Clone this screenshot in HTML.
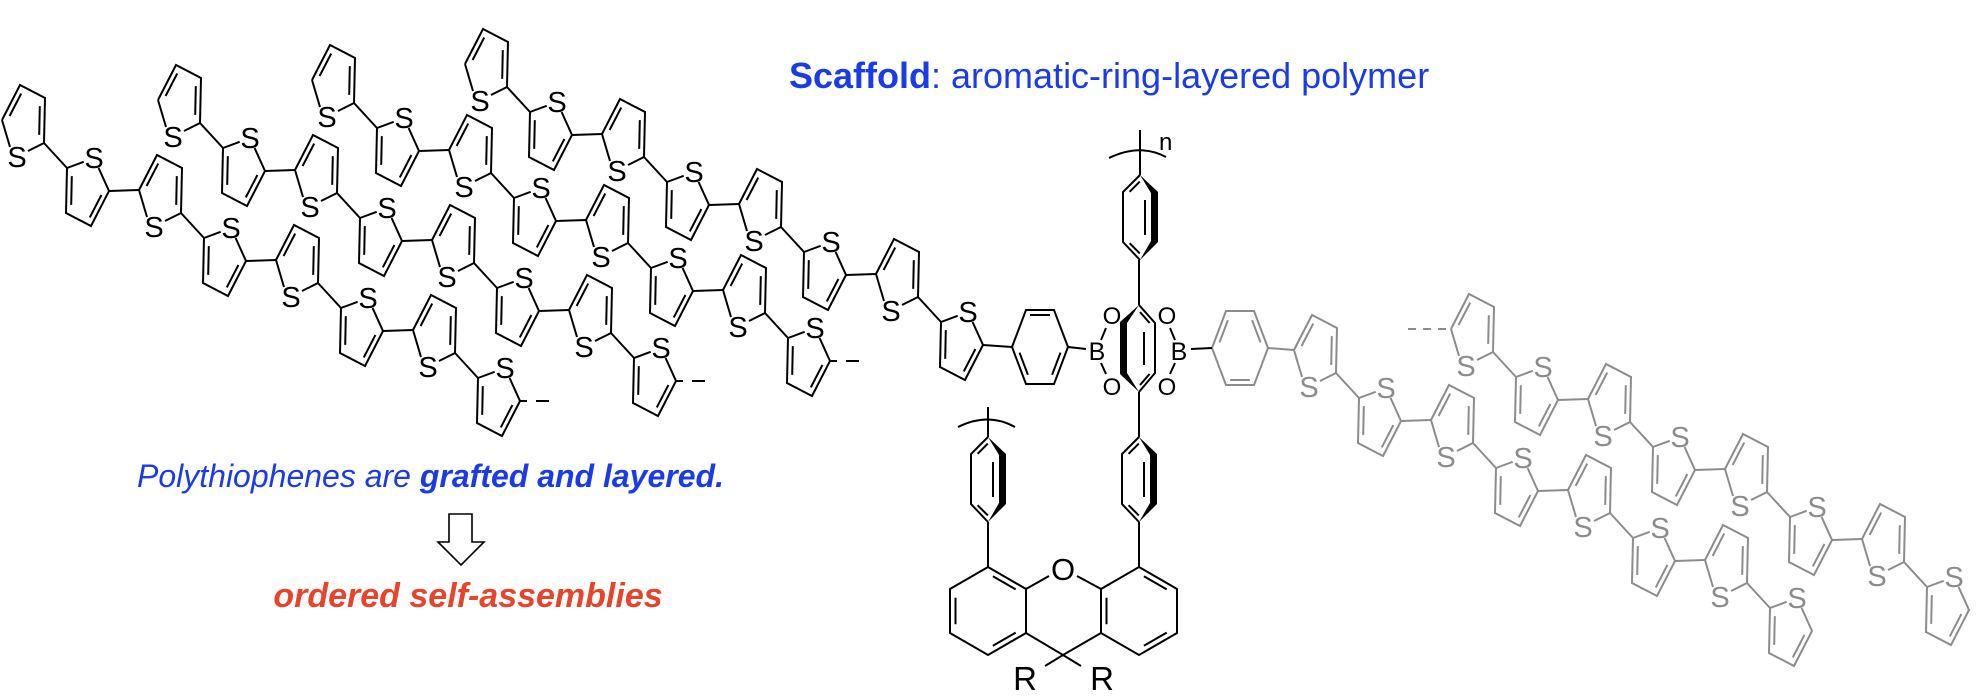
<!DOCTYPE html>
<html><head><meta charset="utf-8"><style>
html,body{margin:0;padding:0;background:#fff;}
svg{display:block;}
text{font-family:"Liberation Sans",Arial,sans-serif;}
</style></head><body>
<svg xmlns="http://www.w3.org/2000/svg" xmlns:xlink="http://www.w3.org/1999/xlink" width="1976" height="698" viewBox="0 0 1976 698">
<defs>
<g id="U" fill="none"><path d="M0,0 L18,-35 L43,-22 L42,23 L26,31 M0,0 L8,27 M7.6,-4 L19.2,-26.4 M37.8,-13.9 L37.2,14.9"/></g>
<g id="D" fill="none"><path d="M0,0 L-1,45 L24,58 L42,23 L31.6,0 M0,0 L16.7,-6.2 M34.4,27 L22.8,49.4 M4.2,36.9 L4.8,8.1"/></g>
<g id="chain" fill="none">
 <use href="#U" xlink:href="#U"/>
 <path d="M42,23 L65,48 M107,71 L137,70 M179,93 L202,118 M244,141 L274,140 M316,163 L339,188 M381,211 L411,210 M453,233 L476,258"/>
 <use href="#D" xlink:href="#D" x="65" y="48"/>
 <use href="#U" xlink:href="#U" x="137" y="70"/>
 <use href="#D" xlink:href="#D" x="202" y="118"/>
 <use href="#U" xlink:href="#U" x="274" y="140"/>
 <use href="#D" xlink:href="#D" x="339" y="188"/>
 <use href="#U" xlink:href="#U" x="411" y="210"/>
 <use href="#D" xlink:href="#D" x="476" y="258"/>
</g>
<g id="W"><path fill="#000" stroke="none" d="M0,0 L18,17 L18,67 L0,85 L11,66 L11,18 Z"/><path fill="none" d="M0,0 L-17,17 L-17,67 L0,85 M-0.2,6.6 L-10.4,16.8 M-0.2,78.4 L-10.4,68.2 M5,25 L5,60"/></g>
</defs>

<!-- black chains -->
<g stroke="#000" stroke-width="2" fill="none">
<use href="#chain" xlink:href="#chain" x="2" y="120"/>
<use href="#chain" xlink:href="#chain" x="158" y="100"/>
<use href="#chain" xlink:href="#chain" x="312" y="80"/>
<use href="#chain" xlink:href="#chain" x="465" y="64"/>
<path d="M520,401 L527,401 M536,401 L549,401 M676,381 L683,381 M692,381 L705,381 M830,361 L837,361 M846,361 L859,361"/>
<path d="M983,345 L1012,347"/>
</g>
<!-- gray chains -->
<g stroke="#8c8c8c" stroke-width="2" fill="none">
<use href="#chain" xlink:href="#chain" x="1294" y="350"/>
<use href="#chain" xlink:href="#chain" x="1451" y="329"/>
<path d="M1408,329 L1451,329" stroke-dasharray="8,7"/>
<path d="M1268,348 L1294,350"/>
<path d="M1212,348 L1226,311 L1254,311 L1268,348 L1254,385 L1226,385 Z M1219.5,342.4 L1227.9,320.2 M1260.5,342.4 L1252.1,320.2 M1230,380 L1250,380"/>
</g>

<!-- S labels black -->
<g font-size="29" text-anchor="middle" fill="#000">
<text x="17" y="167">S</text><text x="94" y="168">S</text><text x="154" y="237">S</text><text x="231" y="238">S</text><text x="291" y="307">S</text><text x="368" y="308">S</text><text x="428" y="377">S</text><text x="505" y="378">S</text>
<text x="173" y="147">S</text><text x="250" y="148">S</text><text x="310" y="217">S</text><text x="387" y="218">S</text><text x="447" y="287">S</text><text x="524" y="288">S</text><text x="584" y="357">S</text><text x="661" y="358">S</text>
<text x="327" y="127">S</text><text x="404" y="128">S</text><text x="464" y="197">S</text><text x="541" y="198">S</text><text x="601" y="267">S</text><text x="678" y="268">S</text><text x="738" y="337">S</text><text x="815" y="338">S</text>
<text x="480" y="111">S</text><text x="557" y="112">S</text><text x="617" y="181">S</text><text x="694" y="182">S</text><text x="754" y="251">S</text><text x="831" y="252">S</text><text x="891" y="321">S</text><text x="968" y="322">S</text>
</g>
<!-- S labels gray -->
<g font-size="29" text-anchor="middle" fill="#8c8c8c">
<text x="1309" y="397">S</text><text x="1386" y="398">S</text><text x="1446" y="467">S</text><text x="1523" y="468">S</text><text x="1583" y="537">S</text><text x="1660" y="538">S</text><text x="1720" y="607">S</text><text x="1797" y="608">S</text>
<text x="1466" y="376">S</text><text x="1543" y="377">S</text><text x="1603" y="446">S</text><text x="1680" y="447">S</text><text x="1740" y="516">S</text><text x="1817" y="517">S</text><text x="1877" y="586">S</text><text x="1954" y="587">S</text>
</g>

<!-- central scaffold -->
<g stroke="#000" stroke-width="2" fill="none">
<path d="M1012,347 L1026,310 L1054,310 L1068,347 L1054,384 L1026,384 Z M1030,315 L1050,315 M1060.5,352.6 L1052.1,374.8 M1019.5,352.6 L1027.9,374.8"/>
<path d="M1068,347 L1086,349"/>
<path d="M1101,340 L1106,328 M1101,363 L1106,374 M1175,340 L1170,328 M1175,363 L1170,374"/>
<path d="M1191,349 L1212,348"/>
<path d="M1139,305 L1155,323 L1155,373 L1139,392 M1144,332 L1144,365 M1140,312 L1149.6,323 M1140,385 L1149.6,374"/>
<path d="M1139,260 L1139,305 M1139,392 L1139,437 M1140,130 L1140,175 M988,407 L988,437 M988,522 L988,567 M1139,522 L1139,567"/>
<path d="M1109,158 Q1140,143 1166,157 M958,427 Q988,412 1015,427"/>
<use href="#W" xlink:href="#W" x="1140" y="175"/>
<use href="#W" xlink:href="#W" x="1139" y="437"/>
<use href="#W" xlink:href="#W" x="988" y="437"/>
<path d="M988,567 L1026,589 L1026,633 L988,655 L950,633 L950,589 Z M1139,567 L1177,589 L1177,633 L1139,655 L1101,633 L1101,589 Z M1026,589 L1049,576 M1077,576 L1101,589 M1026,633 L1063,655 L1101,633 M1063,655 L1045,666 M1063,655 L1081,666 M992.9,576.2 L1015.7,589.4 M992.9,645.8 L1015.7,632.6 M955.5,597.8 L955.5,624.2 M1143.9,576.2 L1166.7,589.4 M1143.9,645.8 L1166.7,632.6 M1106.5,597.8 L1106.5,624.2"/>
</g>
<path fill="#000" d="M1139,305 L1120,322 L1120,374 L1139,392 L1127,373 L1127,323 Z"/>

<g fill="#000" text-anchor="middle">
<text x="1097" y="360" font-size="25">B</text>
<text x="1179" y="360" font-size="25">B</text>
<text x="1112" y="324" font-size="24">O</text>
<text x="1112" y="395" font-size="24">O</text>
<text x="1167" y="324" font-size="24">O</text>
<text x="1167" y="395" font-size="24">O</text>
<text x="1063" y="580" font-size="31">O</text>
<text x="1025" y="690" font-size="33">R</text>
<text x="1102" y="690" font-size="33">R</text>
</g>
<text x="1159" y="150" font-size="24" fill="#000">n</text>

<!-- captions -->
<text x="789" y="88" font-size="36" fill="#1a3bea"><tspan font-weight="bold">Scaffold</tspan>: aromatic-ring-layered polymer</text>
<text x="137" y="487" font-size="32" font-style="italic" fill="#1a3bea">Polythiophenes are <tspan font-weight="bold">grafted and layered.</tspan></text>
<path d="M449,514 L472,514 L472,542 L484,542 L461,565 L438,542 L449,542 Z" fill="#fff" stroke="#000" stroke-width="1.6"/>
<text x="468" y="607" font-size="34" font-style="italic" font-weight="bold" fill="#e8442c" text-anchor="middle">ordered self-assemblies</text>
</svg>
</body></html>
